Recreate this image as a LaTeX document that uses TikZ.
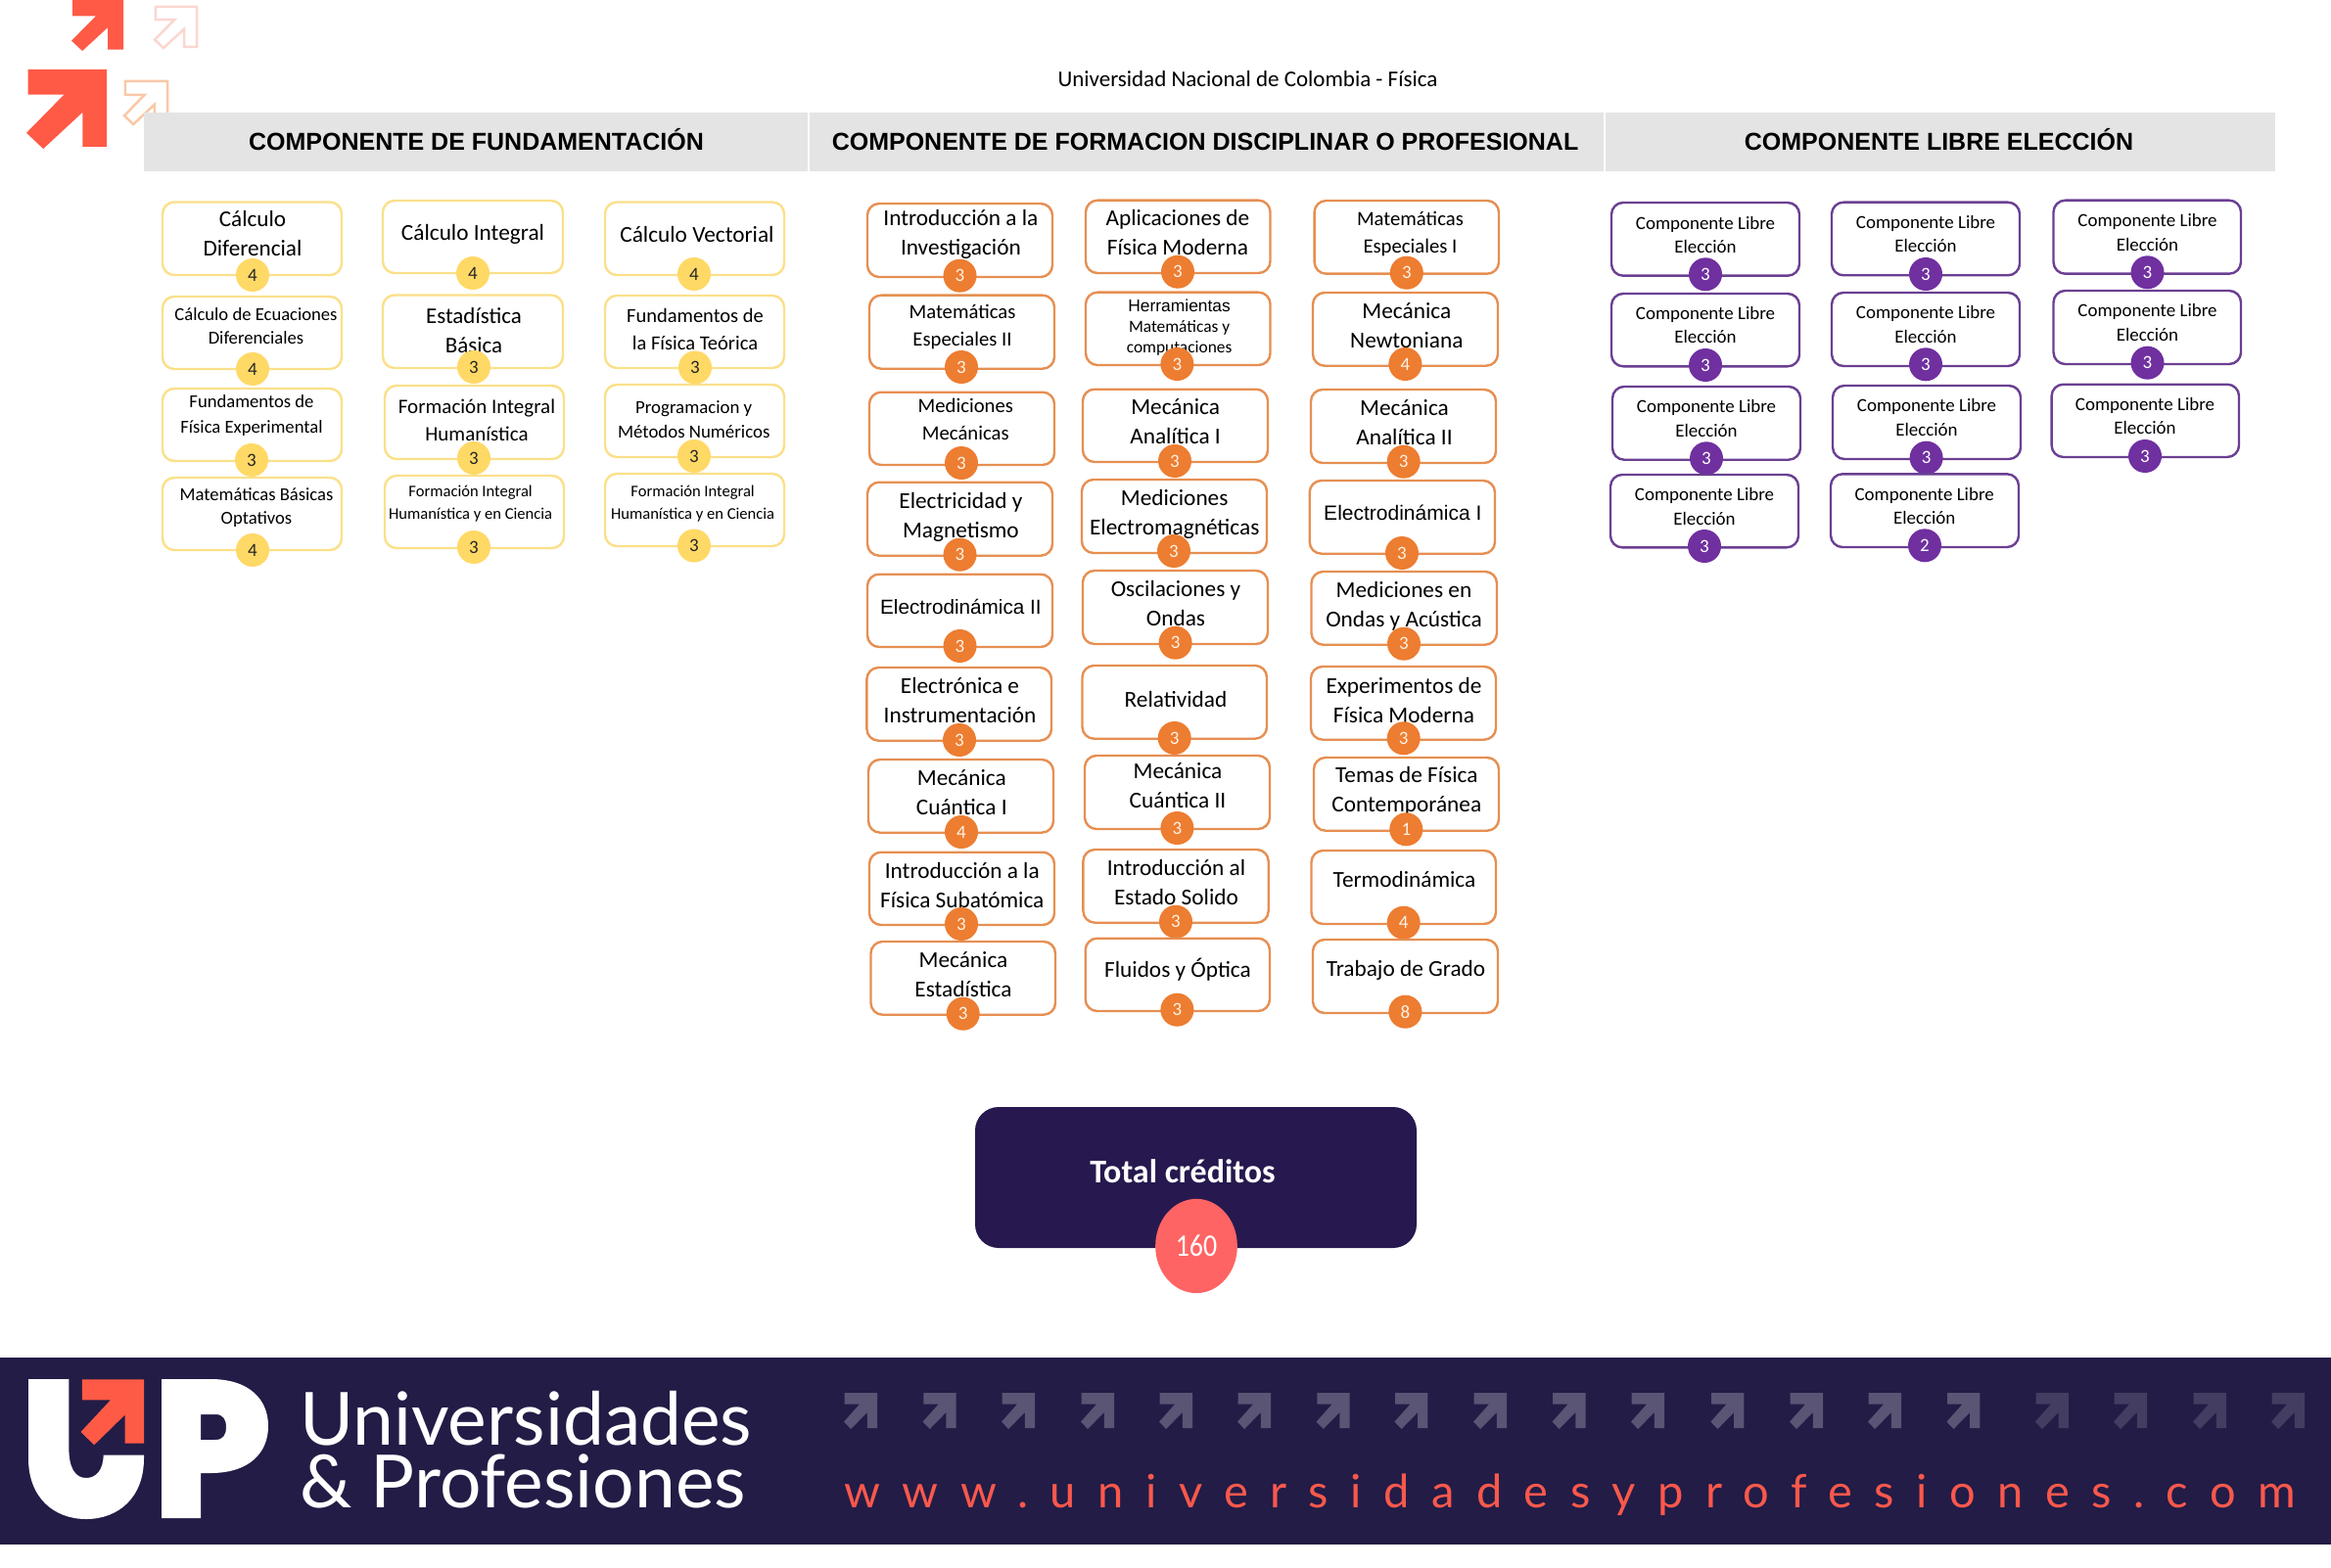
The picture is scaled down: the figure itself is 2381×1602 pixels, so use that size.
\documentclass[tikz,border=0pt]{standalone}
\usepackage{fontspec}
\setmainfont{Carlito}
\newfontfamily\arialf{Liberation Sans}
\newfontfamily\upf{Lato}
\newfontfamily\webf[LetterSpace=47.8]{Lato}
\definecolor{ybord}{HTML}{FBE08A}
\definecolor{yfill}{HTML}{FFD966}
\definecolor{obord}{HTML}{E68F52}
\definecolor{ofill}{HTML}{ED7D31}
\definecolor{pbord}{HTML}{6B3F92}
\definecolor{pfill}{HTML}{7030A0}
\definecolor{bandgray}{HTML}{E4E4E4}
\definecolor{navy}{HTML}{221C46}
\definecolor{totalbg}{HTML}{27194F}
\definecolor{coral}{HTML}{FF5A46}
\definecolor{webcoral}{HTML}{F9584C}
\definecolor{pinkred}{HTML}{FF6464}
\definecolor{arrowpink}{HTML}{FBD6D0}
\definecolor{arrowpeach}{HTML}{F9C8A8}
\definecolor{arrowbright}{HTML}{5A5475}
\definecolor{arrowdim}{HTML}{433D62}
\tikzset{
  cardbox/.style={draw,fill=white,rounded corners=12pt,line width=2.4pt,inner sep=0pt,outer sep=0pt},
  cardtext/.style={align=center,inner sep=0pt,outer sep=0pt,text=black},
  credit/.style={circle,minimum size=34pt,inner sep=0pt,outer sep=0pt,font=\fontsize{19}{22}\selectfont},
  band/.style={fill=bandgray,draw=none,inner sep=0pt,outer sep=0pt},
  bandtitle/.style={anchor=base,font=\arialf\bfseries\fontsize{25}{30}\selectfont,text=black,inner sep=0pt},
  yellowset/.style={draw=ybord},
  orangeset/.style={draw=obord},
  purpleset/.style={draw=pbord},
  yellowcred/.style={fill=yfill,text=black!85},
  orangecred/.style={fill=ofill,text=white!90!orange},
  purplecred/.style={fill=pfill,text=white},
}
\newcommand\arrowpath{(0.02,0) -- (1,0) -- (1,.975) -- (.7,.975) -- (.7,.54) -- (.21,1) -- (0,.8) -- (.47,.315) -- (.02,.315) -- cycle}
\def\card#1/#2/#3/#4/#5/#6/#7/#8/#9/{\def\cid{#1}\def\cxa{#2}\def\cya{#3}\def\cxb{#4}\def\cyb{#5}\def\ccx{#6}\def\ccy{#7}\def\crd{#8}\def\ttx{#9}\cardb}
\def\cardb#1/#2/#3/#4;{%
  \pgfmathsetmacro\bw{\cxb-\cxa}\pgfmathsetmacro\bh{\cyb-\cya}\pgfmathsetmacro\fsc{#2*1.035}%
  \node[cardbox,curbox,minimum width=\bw pt,minimum height=\bh pt] (box\cid) at ({(\cxa+\cxb)/2},{(\cya+\cyb)/2}) {};
  \node[cardtext,font=\fontsize{\fsc}{#3}\selectfont] (txt\cid) at (\ttx,#1) {#4};
  \node[credit,curcred] (cred\cid) at (\ccx,\ccy) {\crd};
}
\begin{document}
\begin{tikzpicture}[x=1pt,y=-1pt]
\useasboundingbox (0,0) rectangle (2381,1602);
% corner arrows
\begin{scope}[shift={(73,0)},xscale=53,yscale=52]
  \fill[coral] \arrowpath;
\end{scope}
\begin{scope}[shift={(158,7)},xscale=43,yscale=42]
  \draw[line width=2.5pt,arrowpink] \arrowpath;
\end{scope}
\begin{scope}[shift={(27,71)},xscale=82,yscale=81]
  \fill[coral] \arrowpath;
\end{scope}
\begin{scope}[shift={(127,83)},xscale=44,yscale=44]
  \draw[line width=2.5pt,arrowpeach] \arrowpath;
\end{scope}
% title
\node[font=\fontsize{23}{26}\selectfont,inner sep=0pt] (title) at (1274.5,81) {Universidad Nacional de Colombia - Física};
% bands
\node[band,minimum width=678pt,minimum height=60pt] (band1) at (486,145) {};
\node[band,minimum width=811pt,minimum height=60pt] (band2) at (1232,145) {};
\node[band,minimum width=684pt,minimum height=60pt] (band3) at (1982,145) {};
\node[bandtitle] (head1) at (486.5,153.5) {COMPONENTE DE FUNDAMENTACIÓN};
\node[bandtitle] (head2) at (1231,153.5) {COMPONENTE DE FORMACION DISCIPLINAR O PROFESIONAL};
\node[bandtitle] (head3) at (1980.5,153.5) {COMPONENTE LIBRE ELECCIÓN};
% yellow
\tikzset{curbox/.style={yellowset},curcred/.style={yellowcred}}
\card y1/166/206.5/349/281/258/281/4/258/238.5/22.4/30/{Cálculo\\Diferencial};
\card y2/166/303/349/377/258/377/4/261.5/333/18/24.5/{Cálculo de Ecuaciones\\Diferenciales};
\card y3/166/397/349/471/257/470/3/257/424.5/18/26/{Fundamentos de\\Física Experimental};
\card y4/166/488/349/562/258/562/4/262/518.5/18/24.5/{Matemáticas Básicas\\Optativos};
\card y5/391/205/575/279/483/279/4/483/239/22.5/28/{Cálculo Integral};
\card y6/391/301.5/575/376/484/375/3/484/337.6/22.2/30/{Estadística\\Básica};
\card y7/393/394/576/469/484/468/3/487/429.5/20.3/28/{Formación Integral\\Humanística};
\card y8/393/486/576/560/484/559/3/480.6/515/16/23/{Formación Integral\\Humanística y en Ciencia};
\card y9/618/206.5/801/281/709/280/4/712/239.4/22.5/28/{Cálculo Vectorial};
\card y10/618/302/801/376/710/375.5/3/710/336.5/19.8/28/{Fundamentos de\\la Física Teórica};
\card y11/618/393/801/467/709/466/3/708.7/428.6/18.2/25/{Programacion y\\Métodos Numéricos};
\card y12/618/484/801/558/709/557.5/3/707.6/515/16/23/{Formación Integral\\Humanística y en Ciencia};
% orange
\tikzset{curbox/.style={orangeset},curcred/.style={orangecred}}
\card o1/886/208/1075/283/980.5/281.7/3/981.4/239.8/22.5/30/{Introducción a la\\Investigación};
\card o2/888/301.7/1077/376.7/982/375/3/983/333.8/20/28/{Matemáticas\\Especiales II};
\card o3/888/400.7/1077/475/982/473/3/986.3/428.3/20/28/{Mediciones\\Mecánicas};
\card o4/886/492.7/1075/567.7/980.5/566.7/3/981.4/528.7/22.5/30/{Electricidad y\\Magnetismo};
\card o5/886/586.7/1075/661/980.5/660/3/981.4/620/20/24/{\arialf Electrodinámica II};
\card o6/885.4/682/1074/756.7/980/756/3/980.5/715.7/22.5/30/{Electrónica e\\Instrumentación};
\card o7/887/776/1076/850.7/982/850/4/982.3/809.5/22.5/30/{Mecánica\\Cuántica I};
\card o8/888/870.7/1077/945/982/944/3/982.8/904.7/22.5/30/{Introducción a la\\Física Subatómica};
\card o9/889.5/962/1078/1036.7/983.7/1035.7/3/984/995.7/22.5/30/{Mecánica\\Estadística};
\card o10/1109/204.7/1297.5/279/1203/277.7/3/1203/238/22.5/30/{Aplicaciones de\\Física Moderna};
\card o11/1109/298.7/1297.5/373/1202.4/372/3/1204.6/334.8/16.8/21/{\arialf Herramientas\\Matemáticas y\\computaciones};
\card o12/1106/397.7/1295/472/1200/471/3/1200.6/431/22.5/30/{Mecánica\\Analítica I};
\card o13/1105/490/1294/565/1199/563/3/1199.7/525.5/22.5/30/{Mediciones\\Electromagnéticas};
\card o14/1106/583/1295/658/1200.6/656.7/3/1201/616.7/22.5/30/{Oscilaciones y\\Ondas};
\card o15/1105.5/680/1294/754.7/1199.7/754/3/1201/714.7/22.5/30/{Relatividad};
\card o16/1108/772/1297/847/1202.4/846/3/1203/802.7/22.5/30/{Mecánica\\Cuántica II};
\card o17/1106.4/868/1295.7/942.7/1201/941.7/3/1201.5/901.7/22.5/30/{Introducción al\\Estado Solido};
\card o18/1108.7/958.7/1297/1033/1202.4/1031.7/3/1203/990.7/22.5/30/{Fluidos y Óptica};
\card o19/1342.6/205/1531/279.7/1436.8/278.7/3/1440.4/239.3/20/28/{Matemáticas\\Especiales I};
\card o20/1341/299/1530/373.7/1435.4/372/4/1436.8/332.5/22.5/30/{Mecánica\\Newtoniana};
\card o21/1339/398/1528/473/1433.7/471.7/3/1434.5/432/22.5/30/{Mecánica\\Analítica II};
\card o22/1337.7/491/1527/565.7/1432/565/3/1432.8/523.7/20.3/24/{\arialf Electrodinámica I};
\card o23/1339.5/584/1529/658.7/1434/657.7/3/1434/619.2/22.5/30/{Mediciones en\\Ondas y Acústica};
\card o24/1339/681/1528/755.7/1433.7/754.3/3/1434/715/22.5/30/{Experimentos de\\Física Moderna};
\card o25/1342/774/1531/848.7/1436.3/847.3/1/1436.8/808/22.5/30/{Temas de Física\\Contemporánea};
\card o26/1339.5/869/1528/944/1433.7/942.7/4/1434.5/898.7/22.5/30/{Termodinámica};
\card o27/1341/960/1530/1035/1435.4/1033.7/8/1436/991.7/22.5/30/{Trabajo de Grado};
% purple
\tikzset{curbox/.style={purpleset},curcred/.style={purplecred}}
\card p1/1646/207/1838/281.7/1742/280.3/3/1742/239.8/18.3/24.5/{Componente Libre\\Elección};
\card p2/1646/300/1838/374.3/1742/373/3/1742/332/18.3/24.5/{Componente Libre\\Elección};
\card p3/1647/395/1839/469.7/1743/468.3/3/1743/427.5/18.3/24.5/{Componente Libre\\Elección};
\card p4/1645/485/1837/559.3/1741/558/3/1741/517.3/18.3/24.5/{Componente Libre\\Elección};
\card p5/1871/206.7/2063/281.3/1967/280/3/1967/239.2/18.3/24.5/{Componente Libre\\Elección};
\card p6/1871/299/2063/374/1967/372.3/3/1967/331.7/18.3/24.5/{Componente Libre\\Elección};
\card p7/1872/394/2064/469/1967.6/467.7/3/1968/426.5/18.3/24.5/{Componente Libre\\Elección};
\card p8/1870/484.3/2062/559/1966/557.3/2/1965.7/516.8/18.3/24.5/{Componente Libre\\Elección};
\card p9/2097.5/204.7/2289/279.7/2193.5/278.3/3/2193.5/237.7/18.3/24.5/{Componente Libre\\Elección};
\card p10/2097.5/297/2289/372/2193.5/370.7/3/2193.5/329.7/18.3/24.5/{Componente Libre\\Elección};
\card p11/2095.6/392.7/2287/467/2191/466/3/2191/425/18.3/24.5/{Componente Libre\\Elección};
% total
\node[fill=totalbg,rounded corners=24pt,minimum width=451pt,minimum height=144pt,inner sep=0pt,outer sep=0pt] (total) at (1221.5,1203) {};
\node[font=\bfseries\fontsize{34}{38}\selectfont,text=white,inner sep=0pt] (totaltxt) at (1208,1197) {Total créditos};
\node[circle,fill=pinkred,minimum size=90pt,inner sep=0pt,font=\fontsize{30}{34}\selectfont,text=white,yscale=1.07,xscale=0.93] (totalnum) at (1222,1273) {160};
% footer
\node[fill=navy,minimum width=2381pt,minimum height=191pt,inner sep=0pt,outer sep=0pt] (footer) at (1190.5,1482.5) {};
\fill[white] (29,1409) -- (29,1490) .. controls (29,1530) and (55,1552) .. (88,1552) .. controls (121,1552) and (147,1530) .. (147,1490) -- (147,1486.7) -- (105.6,1486.7) .. controls (105.6,1502) and (98,1510) .. (88,1510) .. controls (77,1510) and (70.4,1500) .. (70.4,1480) -- (70.4,1409) -- cycle;
\fill[white,even odd rule] (165,1409) -- (215,1409) .. controls (255,1409) and (274,1430) .. (274,1457) .. controls (274,1484) and (255,1505) .. (215,1505) -- (205,1505) -- (205,1551) -- (165,1551) -- cycle
  (205,1445) -- (220,1445) .. controls (228,1445) and (231,1450) .. (231,1458) .. controls (231,1466) and (228,1471) .. (220,1471) -- (205,1471) -- cycle;
\begin{scope}[shift={(82.6,1409.3)},xscale=64.4,yscale=67]
  \fill[coral] \arrowpath;
\end{scope}
\foreach \ax in {862,942.6,1023,1104,1184,1264,1344.6,1424.4,1505,1585.5,1666,1747.4,1828,1908,1988.4}{
  \begin{scope}[shift={(\ax,1423)},xscale=34,yscale=37]
    \fill[arrowbright] \arrowpath;
  \end{scope}}
\foreach \ax in {2078.8,2159,2240,2320}{
  \begin{scope}[shift={(\ax,1423)},xscale=34,yscale=37]
    \fill[arrowdim] \arrowpath;
  \end{scope}}
\node[anchor=north west,align=left,inner sep=0pt,text=white,font=\upf\fontsize{75}{64}\selectfont] (brand) at (306,1421) {Universidades\\\& Profesiones};
\node[anchor=base west,inner sep=0pt,text=webcoral,font=\webf\fontsize{47}{50}\selectfont] (web) at (862,1540) {www.universidadesyprofesiones.com};
\end{tikzpicture}
\end{document}
